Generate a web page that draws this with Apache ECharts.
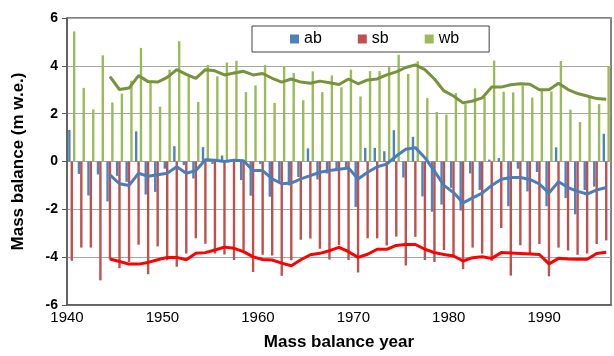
<!DOCTYPE html>
<html>
<head>
<meta charset="utf-8">
<script src="https://cdn.jsdelivr.net/npm/echarts@6/dist/echarts.min.js"></script>
<style>
  html, body { margin: 0; padding: 0; background: #fff; }
  #chart { width: 614px; height: 356px; }
</style>
</head>
<body>
<div id="chart"></div>
<script>
// Annual mass balance components (m w.e.), one value per mass balance year
const years = [1940,1941,1942,1943,1944,1945,1946,1947,1948,1949,
               1950,1951,1952,1953,1954,1955,1956,1957,1958,1959,
               1960,1961,1962,1963,1964,1965,1966,1967,1968,1969,
               1970,1971,1972,1973,1974,1975,1976,1977,1978,1979,
               1980,1981,1982,1983,1984,1985,1986,1987,1988,1989,
               1990,1991,1992,1993,1994,1995,1996];

const ab = [1.32,-0.52,-1.42,-0.54,-1.67,-0.60,-0.85,1.26,-1.38,-1.27,
            -0.30,0.64,-0.15,-0.71,0.60,-0.10,0.25,0.08,-0.78,-1.43,
            -0.10,-1.47,-0.85,-1.00,-0.65,0.55,-0.75,-0.50,-0.40,-0.30,
            -1.90,0.57,0.57,0.43,1.31,-0.67,1.03,-1.46,-2.10,-1.80,
            -1.10,-2.05,-0.50,-1.19,0.08,0.14,-1.87,-0.30,-1.25,-0.44,
            -1.87,0.59,-1.53,-2.21,-1.19,-1.05,1.16];

const sb = [-4.15,-3.60,-3.60,-4.97,-4.10,-4.46,-4.20,-3.48,-4.71,-3.55,
            -4.13,-4.40,-3.85,-3.21,-3.44,-3.85,-3.89,-4.12,-3.70,-4.62,
            -3.90,-3.93,-4.78,-4.13,-3.27,-3.22,-3.65,-4.10,-3.50,-4.12,
            -4.64,-3.21,-3.21,-3.51,-3.14,-4.35,-3.15,-4.12,-4.20,-3.70,
            -3.99,-4.50,-3.60,-3.85,-4.15,-2.78,-4.77,-3.50,-3.90,-3.45,
            -4.80,-3.60,-3.72,-3.90,-3.85,-3.45,-3.30];

const wb = [5.44,3.08,2.18,4.44,2.47,2.84,3.38,4.75,3.32,2.29,
            3.84,5.03,3.56,2.49,4.04,3.56,4.14,4.21,2.90,3.18,
            4.04,2.45,3.97,3.70,2.56,3.77,2.90,3.60,3.10,3.84,
            2.72,3.78,3.78,3.98,4.46,3.66,4.19,2.65,2.07,1.96,
            2.86,2.40,3.06,2.70,4.22,2.92,2.89,3.17,2.67,3.00,
            2.93,4.20,2.17,1.65,2.66,2.40,3.97];

// 5-year running means, drawn as lines from 1944 onward
const avgYears = [1944,1945,1946,1947,1948,1949,
                  1950,1951,1952,1953,1954,1955,1956,1957,1958,1959,
                  1960,1961,1962,1963,1964,1965,1966,1967,1968,1969,
                  1970,1971,1972,1973,1974,1975,1976,1977,1978,1979,
                  1980,1981,1982,1983,1984,1985,1986,1987,1988,1989,
                  1990,1991,1992,1993,1994,1995,1996];

const abAvg = [-0.56,-0.93,-1.00,-0.49,-0.62,-0.55,
               -0.49,-0.22,-0.49,-0.38,0.07,0.05,0.00,0.05,0.03,-0.38,
               -0.38,-0.73,-0.93,-0.90,-0.73,-0.59,-0.45,-0.38,-0.32,-0.27,
               -0.73,-0.45,-0.22,-0.11,0.23,0.51,0.58,0.16,-0.40,-1.00,
               -1.30,-1.73,-1.52,-1.32,-1.00,-0.74,-0.67,-0.67,-0.75,-0.94,
               -1.32,-0.85,-1.09,-1.25,-1.36,-1.19,-1.09];

const sbAvg = [-4.08,-4.18,-4.29,-4.29,-4.22,-4.11,
               -4.01,-4.01,-4.11,-3.84,-3.81,-3.70,-3.58,-3.63,-3.77,-3.99,
               -4.10,-4.12,-4.25,-4.36,-4.11,-3.90,-3.84,-3.73,-3.59,-3.77,
               -4.01,-3.88,-3.67,-3.67,-3.51,-3.47,-3.47,-3.67,-3.81,-3.89,
               -3.95,-4.16,-4.02,-3.98,-4.05,-3.81,-3.83,-3.85,-3.87,-3.89,
               -4.28,-4.05,-4.08,-4.09,-4.09,-3.85,-3.79];

const wbAvg = [3.55,3.01,3.07,3.59,3.34,3.32,
               3.52,3.84,3.64,3.48,3.84,3.79,3.62,3.70,3.77,3.62,
               3.68,3.48,3.32,3.45,3.32,3.27,3.36,3.29,3.22,3.45,
               3.25,3.41,3.45,3.62,3.75,3.93,4.04,3.84,3.45,2.95,
               2.74,2.45,2.53,2.66,3.11,3.11,3.21,3.25,3.23,3.00,
               3.00,3.27,3.01,2.84,2.74,2.63,2.60];

const yTicks = [-6, -4, -2, 0, 2, 4, 6];
const xTicks = [1940, 1950, 1960, 1970, 1980, 1990];

const colors = { ab: '#4F81BD', sb: '#C0504D', wb: '#9BBB59' };
const lineColors = { ab: '#4A7EBB', sb: '#FF0000', wb: '#77933C' };
const font = 'Liberation Sans, Arial, sans-serif';

// each mass balance year is plotted in the middle of its year span
const pairs = (xs, vs) => xs.map((y, i) => [y + 0.5, vs[i]]);

const barSeries = (name, values) => ({
  name, type: 'bar', data: pairs(years, values),
  barWidth: 2.4, barGap: '0%',
  itemStyle: { color: colors[name] },
  emphasis: { disabled: true }, z: 2
});

const lineSeries = (key, values) => ({
  name: key + ' mean', type: 'line', data: pairs(avgYears, values),
  showSymbol: false, smooth: false,
  lineStyle: { color: lineColors[key], width: 3 },
  itemStyle: { color: lineColors[key] },
  emphasis: { disabled: true }, z: 5
});

const chart = echarts.init(document.getElementById('chart'), null, { renderer: 'canvas' });
chart.setOption({
  animation: false,
  textStyle: { fontFamily: font },
  grid: {
    left: 67, right: 3, top: 18, bottom: 45,
    show: true, borderColor: '#595959', borderWidth: 1.5, backgroundColor: 'transparent'
  },
  legend: {
    data: ['ab', 'sb', 'wb'],
    left: 252, top: 26,
    padding: [5, 30, 5, 38],
    itemGap: 36, itemWidth: 9, itemHeight: 9, icon: 'rect',
    borderColor: '#404040', borderWidth: 1, backgroundColor: '#fff',
    textStyle: { fontSize: 16, color: '#000', fontFamily: font }
  },
  xAxis: {
    type: 'value', min: xTicks[0], max: 1997, interval: 10,
    name: 'Mass balance year', nameLocation: 'middle', nameGap: 29,
    nameTextStyle: { fontSize: 17, fontWeight: 'bold', color: '#000', fontFamily: font },
    axisLine: { onZero: false, lineStyle: { color: '#595959', width: 1.5 } },
    axisTick: { show: false },
    splitLine: { show: false },
    axisLabel: {
      fontSize: 15, color: '#000', margin: 5,
      customValues: xTicks, formatter: v => String(v)
    }
  },
  yAxis: {
    type: 'value', min: yTicks[0], max: yTicks[yTicks.length - 1], interval: 2,
    name: 'Mass balance (m w.e.)', nameLocation: 'middle', nameGap: 40,
    nameTextStyle: { fontSize: 17, fontWeight: 'bold', color: '#000', fontFamily: font },
    axisLine: { show: true, lineStyle: { color: '#595959', width: 1.5 } },
    axisTick: { show: true, length: 5, lineStyle: { color: '#595959' } },
    splitLine: { lineStyle: { color: '#A6A6A6', width: 1 } },
    axisLabel: { fontSize: 14, fontWeight: 'bold', color: '#000', margin: 9 }
  },
  series: [
    barSeries('ab', ab),
    barSeries('sb', sb),
    barSeries('wb', wb),
    lineSeries('wb', wbAvg),
    lineSeries('ab', abAvg),
    lineSeries('sb', sbAvg)
  ]
});
</script>
</body>
</html>
